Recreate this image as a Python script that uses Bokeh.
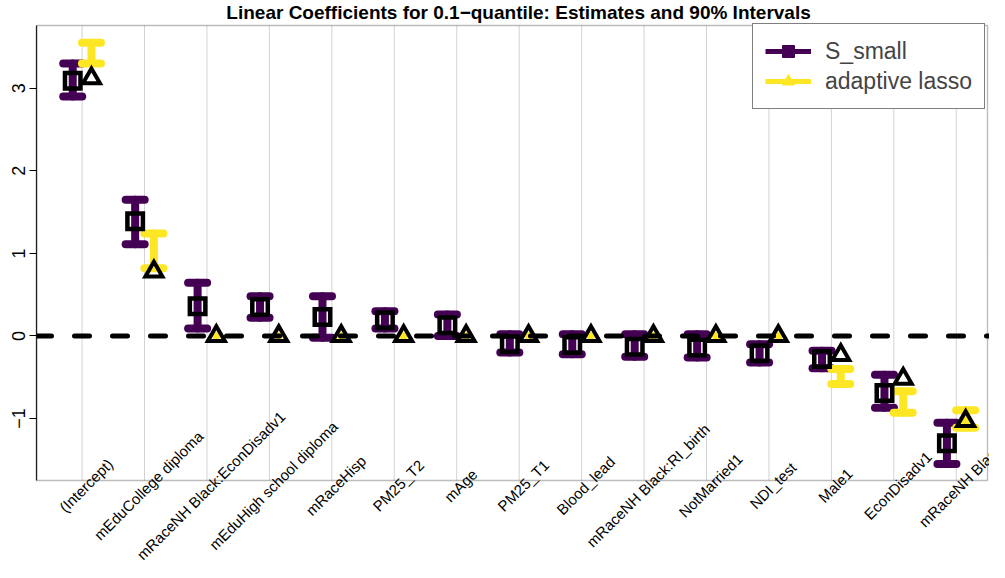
import math
from bokeh.plotting import figure
from bokeh.models import (ColumnDataSource, Range1d, FixedTicker, Whisker, TeeHead,
                          Span, Label, Legend, LegendItem, BoxAnnotation)
from bokeh.transform import dodge
from bokeh.embed import file_html
from bokeh.resources import INLINE

# ---------------- data ----------------
terms = ["(Intercept)", "mEduCollege diploma", "mRaceNH Black:EconDisadv1",
         "mEduHigh school diploma", "mRaceHisp", "PM25_T2", "mAge", "PM25_T1",
         "Blood_lead", "mRaceNH Black:RI_birth", "NotMarried1", "NDI_test",
         "Male1", "EconDisadv1", "mRaceNH Black"]

s_small_est = [3.09, 1.39, 0.36, 0.35, 0.23, 0.19, 0.13, -0.10, -0.11, -0.13,
               -0.14, -0.21, -0.28, -0.69, -1.30]
s_small_lo = [2.90, 1.11, 0.09, 0.22, -0.02, 0.09, 0.00, -0.20, -0.22, -0.25,
              -0.26, -0.32, -0.39, -0.87, -1.55]
s_small_hi = [3.30, 1.65, 0.645, 0.48, 0.48, 0.30, 0.26, 0.02, 0.02, 0.02,
              0.02, -0.10, -0.18, -0.47, -1.05]

alasso_est = [3.12, 0.78, 0.0, 0.0, 0.0, 0.0, 0.0, 0.0, 0.0, 0.0, 0.0, 0.0,
              -0.23, -0.52, -1.03]
alasso_lo = [3.30, 0.82, 0.0, 0.0, 0.0, 0.0, 0.0, 0.0, 0.0, 0.0, 0.0, 0.0,
             -0.58, -0.93, -1.11]
alasso_hi = [3.55, 1.24, 0.0, 0.0, 0.0, 0.0, 0.0, 0.0, 0.0, 0.0, 0.0, 0.0,
             -0.40, -0.67, -0.90]

y_ticks = [-1, 0, 1, 2, 3]
title_text = "Linear Coefficients for 0.1\u2212quantile: Estimates and 90% Intervals"

PURPLE = "#440154"
YELLOW = "#FDE725"
FONT = "Liberation Sans"

xs = list(range(1, len(terms) + 1))

# ---------------- layout ----------------
W, H = 989, 562
LEFT = 36
FRAME_W = W - LEFT
FRAME_H = H
X0, X1 = 0.27, 15.5           # plot box, x
Y0, Y1 = -1.75, 3.76          # plot box, y
BOX_TOP_PX, BOX_H_PX = 25, 455
BOX_W_PX = FRAME_W - 2
PXX = BOX_W_PX / (X1 - X0)
PXY = BOX_H_PX / (Y1 - Y0)
XR = X1 + (FRAME_W - BOX_W_PX) / PXX
YT = Y1 + BOX_TOP_PX / PXY
YB = Y0 - (FRAME_H - BOX_TOP_PX - BOX_H_PX) / PXY
TITLE_X = (X0 + 15.71) / 2

p = figure(width=W, height=H, x_range=Range1d(X0, XR), y_range=Range1d(YB, YT),
           output_backend="svg", toolbar_location=None,
           min_border_left=LEFT, min_border_right=0, min_border_bottom=0, min_border_top=0)
p.extra_y_ranges = {"legend_only": Range1d(1e6, 1e6 + 1)}

p.outline_line_color = None
p.background_fill_color = "white"
p.border_fill_color = "white"

p.xaxis.visible = False
p.xgrid.visible = False
p.ygrid.visible = False

p.yaxis.ticker = FixedTicker(ticks=y_ticks)
p.yaxis.bounds = (Y0, Y1)
p.yaxis.major_label_orientation = "vertical"
p.yaxis.major_label_text_font = FONT
p.yaxis.major_label_text_font_size = "18px"
p.yaxis.major_label_text_color = "black"
p.yaxis.major_label_overrides = {t: ("\u2212%d" % abs(t) if t < 0 else str(t)) for t in y_ticks}
p.yaxis.major_tick_out = 7
p.yaxis.major_tick_in = 0
p.yaxis.minor_tick_line_color = None
p.yaxis.major_label_standoff = 4
p.yaxis.axis_line_color = "#222222"
p.yaxis.axis_line_width = 1.3
p.yaxis.major_tick_line_color = "black"

# title
p.add_layout(Label(x=TITLE_X, y=Y1, y_offset=13, text=title_text, text_align="center",
                   text_baseline="middle", text_font=FONT, text_font_size="19px",
                   text_font_style="bold", text_color="black"))

# vertical grid lines inside the plot box
grid_src = ColumnDataSource(dict(x=xs))
p.segment(x0="x", y0=Y0, x1="x", y1=Y1, source=grid_src, line_color="#d3d3d3",
          line_width=1, level="underlay")

def split(lo, hi):
    nz = dict(x=[], lo=[], hi=[])
    z = dict(x=[], y=[])
    for x, l, h in zip(xs, lo, hi):
        if l == h:
            z["x"].append(x); z["y"].append(l)
        else:
            nz["x"].append(x); nz["lo"].append(l); nz["hi"].append(h)
    return ColumnDataSource(nz), ColumnDataSource(z)

src_s = ColumnDataSource(dict(x=xs, est=s_small_est))
src_a = ColumnDataSource(dict(x=xs, est=alasso_est))
s_nz, s_z = split(s_small_lo, s_small_hi)
a_nz, a_z = split(alasso_lo, alasso_hi)

OFF = 0.15

def add_whisker(source, off, color):
    w = Whisker(source=source, base=dodge("x", off, range=p.x_range), upper="hi", lower="lo",
                dimension="height", line_color=color, line_width=8, line_cap="round",
                upper_head=TeeHead(size=19, line_color=color, line_width=8, line_cap="round"),
                lower_head=TeeHead(size=19, line_color=color, line_width=8, line_cap="round"),
                level="underlay")
    p.add_layout(w)

add_whisker(s_nz, -OFF, PURPLE)
add_whisker(a_nz, OFF, YELLOW)

# zero-length intervals render as a round dot
p.scatter(x=dodge("x", -OFF, range=p.x_range), y="y", source=s_z, marker="circle",
          size=8, fill_color=PURPLE, line_alpha=0)
p.scatter(x=dodge("x", OFF, range=p.x_range), y="y", source=a_z, marker="circle",
          size=8, fill_color=YELLOW, line_alpha=0)

p.scatter(x=dodge("x", -OFF, range=p.x_range), y="est", source=src_s, marker="square",
          size=15.5, line_width=4.5, line_color="black", fill_alpha=0, line_join="miter")
p.scatter(x=dodge("x", OFF, range=p.x_range), y="est", source=src_a, marker="triangle",
          size=17, line_width=4, line_color="black", fill_alpha=0, line_join="miter")

p.add_layout(Span(location=0, dimension="width", line_color="black", line_width=5,
                  line_dash="15 23", line_cap="round"))

# plot box
p.add_layout(BoxAnnotation(left=X0, right=X1, bottom=Y0, top=Y1, fill_alpha=0,
                           line_color="#222222", line_width=1.4))

# rotated category labels, centred under each grid line
for x, t in zip(xs, terms):
    p.add_layout(Label(x=x, y=Y0, text=t, angle=math.pi / 4, text_align="center",
                       text_baseline="middle", x_offset=4, y_offset=-5,
                       text_font=FONT, text_font_size="15px", text_color="black"))

# legend: renderers on a y range that is never in view, so only their legend glyphs show
l1 = p.line(x="x", y="est", source=src_s, line_color=PURPLE, line_width=5,
            y_range_name="legend_only")
m1 = p.scatter(x="x", y="est", source=src_s, marker="square", fill_color=PURPLE,
               line_color=PURPLE, y_range_name="legend_only")
l2 = p.line(x="x", y="est", source=src_a, line_color=YELLOW, line_width=5,
            y_range_name="legend_only")
m2 = p.scatter(x="x", y="est", source=src_a, marker="triangle", fill_color=YELLOW,
               line_color=YELLOW, y_range_name="legend_only")
LEG_W, LEG_H = 235, 84
legend = Legend(items=[LegendItem(label="S_small", renderers=[l1, m1]),
                       LegendItem(label="adaptive lasso", renderers=[l2, m2])],
                location=(BOX_W_PX - LEG_W, FRAME_H - BOX_TOP_PX - LEG_H),
                label_text_font=FONT, label_text_font_size="23px",
                glyph_width=46, glyph_height=30, label_standoff=14, padding=12, spacing=0,
                border_line_color="black", border_line_width=1, margin=0,
                background_fill_color="white", background_fill_alpha=1)
p.add_layout(legend)

open("out.html", "w").write(file_html(p, INLINE))
